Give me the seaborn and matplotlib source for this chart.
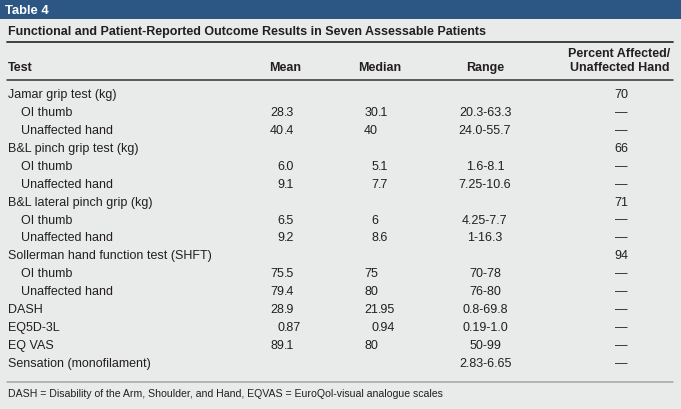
import matplotlib
matplotlib.use("Agg")
import matplotlib.pyplot as plt
import seaborn as sns

# table content
tests = ["Jamar grip test (kg)", "OI thumb", "Unaffected hand",
         "B&L pinch grip test (kg)", "OI thumb", "Unaffected hand",
         "B&L lateral pinch grip (kg)", "OI thumb", "Unaffected hand",
         "Sollerman hand function test (SHFT)", "OI thumb", "Unaffected hand",
         "DASH", "EQ5D-3L", "EQ VAS", "Sensation (monofilament)"]
indent = [0, 1, 1, 0, 1, 1, 0, 1, 1, 0, 1, 1, 0, 0, 0, 0]
means = ["", "28.3", "40.4", "", "6.0", "9.1", "", "6.5", "9.2",
         "", "75.5", "79.4", "28.9", "0.87", "89.1", ""]
medians = ["", "30.1", "40", "", "5.1", "7.7", "", "6", "8.6",
           "", "75", "80", "21.95", "0.94", "80", ""]
ranges = ["", "20.3-63.3", "24.0-55.7", "", "1.6-8.1", "7.25-10.6", "", "4.25-7.7", "1-16.3",
          "", "70-78", "76-80", "0.8-69.8", "0.19-1.0", "50-99", "2.83-6.65"]
pct = ["70", "—", "—", "66", "—", "—", "71", "—", "—",
       "94", "—", "—", "—", "—", "—", "—"]
headers = ["Test", "Mean", "Median", "Range", "Percent Affected/\nUnaffected Hand"]

sns.set_theme(style="white")
plt.rcParams["font.family"] = ["Liberation Sans", "DejaVu Sans"]

bg = "#e9eaea"
blue = "#2c5784"
ink = "#231f20"
fs = 9.0

fig = plt.figure(figsize=(6.81, 4.10), dpi=100, facecolor=bg)
ax = fig.add_axes([0, 0, 1, 1])
ax.set_xlim(0, 681)
ax.set_ylim(410, 0)
ax.set_facecolor(bg)
ax.axis("off")

# header band
ax.axhspan(0, 20, color=blue, lw=0)
ax.text(5, 10.5, "Table 4", color="white", fontsize=9.4, fontweight="bold", va="center")
ax.text(8, 32, "Functional and Patient-Reported Outcome Results in Seven Assessable Patients",
        color=ink, fontsize=fs, fontweight="bold", va="center")
ax.plot([7, 673], [43, 43], color="#333333", lw=1.3)
ax.plot([7, 673], [81, 81], color="#333333", lw=1.1)
ax.plot([7, 673], [383, 383], color="#a4a4a4", lw=1.1)

# column headers
ax.text(8, 68, headers[0], color=ink, fontsize=fs, fontweight="bold", va="center")
ax.text(285, 68, headers[1], color=ink, fontsize=fs, fontweight="bold", va="center", ha="center")
ax.text(380, 68, headers[2], color=ink, fontsize=fs, fontweight="bold", va="center", ha="center")
ax.text(485, 68, headers[3], color=ink, fontsize=fs, fontweight="bold", va="center", ha="center")
ax.text(670, 61, headers[4], color=ink, fontsize=fs, fontweight="bold", va="center", ha="right",
        linespacing=1.2)


def dec_text(x_dec, y, s):
    # align numbers on the decimal point
    if not s:
        return
    if "." in s:
        a, b = s.split(".")
        ax.text(x_dec, y, a, color=ink, fontsize=fs, va="center", ha="right")
        ax.text(x_dec, y, "." + b, color=ink, fontsize=fs, va="center", ha="left")
    else:
        ax.text(x_dec, y, s, color=ink, fontsize=fs, va="center", ha="right")


y0, dy = 95, 17.93
for i, t in enumerate(tests):
    y = y0 + i * dy
    ax.text(8 + 13 * indent[i], y, t, color=ink, fontsize=fs, va="center")
    dec_text(284, y, means[i])
    dec_text(378, y, medians[i])
    ax.text(485, y, ranges[i], color=ink, fontsize=fs, va="center", ha="center")
    ax.text(621, y, pct[i], color=ink, fontsize=fs, va="center", ha="center")

ax.text(8, 394.5, "DASH = Disability of the Arm, Shoulder, and Hand, EQVAS = EuroQol-visual analogue scales",
        color=ink, fontsize=7.55, va="center")

fig.savefig("out.png", dpi=100, facecolor=bg)
